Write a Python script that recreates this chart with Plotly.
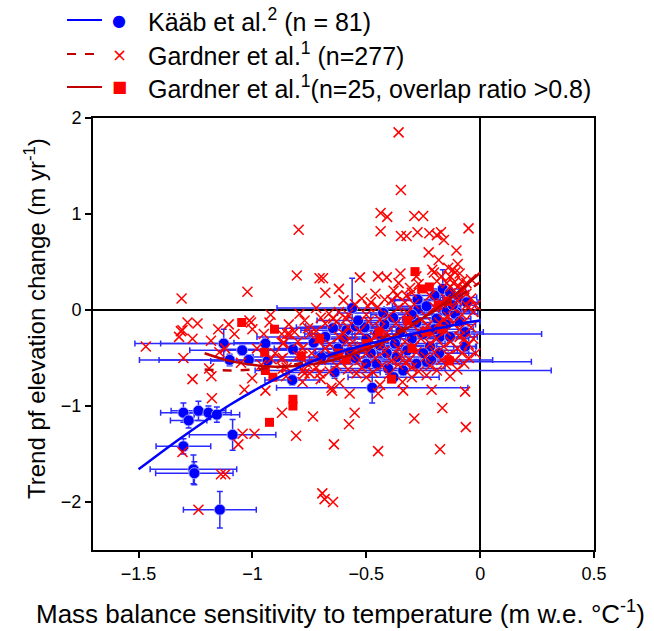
import plotly.graph_objects as go

# ---------------- data ----------------
# Kääb et al. (n = 81): x, y, x-error, y-error
kaab_x = [-1.143, -1.259, -1.255, -1.303, -1.087, -1.303, -1.28, -1.237, -1.193, -1.156,
          -1.126, -1.045, -1.016, -1.10, -0.943, -0.933, -0.822, -0.731, -0.639, -0.825,
          -0.474, -0.562, -0.646, -0.587, -0.546, -0.507, -0.536, -0.624, -0.573, -0.697,
          -0.426, -0.44, -0.41, -0.374, -0.455, -0.404, -0.338, -0.367, -0.272, -0.272,
          -0.164, -0.132, -0.095, -0.147, -0.103, -0.191, -0.28, -0.176, -0.132, -0.22,
          -0.066, -0.066, -0.235, -0.50, -0.382, -0.235, -0.11, -0.059, -0.275, -0.25,
          -0.215, -0.45, -0.35, -0.30, -0.50, -0.32, -0.25, -0.18, -0.60, -0.68,
          -0.42, -0.30, -0.20, -0.15, -0.48, -0.55, -0.28, -0.38, -0.12, -0.20, -0.09]
kaab_y = [-2.08, -1.66, -1.70, -1.42, -1.30, -1.07, -1.15, -1.05, -1.07, -1.09,
          -0.35, -0.42, -0.52, -0.52, -0.35, -0.53, -0.41, -0.34, -0.65, -0.73,
          -0.81, 0.02, -0.19, -0.21, -0.17, -0.18, -0.11, -0.40, -0.44, -0.49,
          -0.03, -0.37, -0.45, -0.35, -0.56, -0.61, -0.63, -0.49, 0.10, 0.01,
          0.22, 0.18, 0.13, -0.01, -0.02, -0.09, -0.13, -0.28, -0.28, -0.38,
          -0.38, -0.23, -0.54, -0.56, -0.08, 0.04, -0.04, 0.08, 0.11, -0.25,
          -0.52, -0.25, -0.22, -0.30, -0.30, -0.42, -0.45, -0.45, -0.30, -0.28,
          -0.15, -0.05, -0.20, -0.15, -0.45, -0.50, -0.56, -0.70, 0.05, 0.15, -0.12]
kaab_xerr = [0.16, 0.19, 0.17, 0.12, 0.19, 0.10, 0.08, 0.12, 0.10, 0.10,
             0.39, 0.23, 0.48, 0.31, 0.46, 0.25, 0.30, 0.35, 0.20, 0.12,
             0.42, 0.33, 0.25, 0.20, 0.22, 0.30, 0.18, 0.28, 0.15, 0.30,
             0.20, 0.25, 0.18, 0.22, 0.30, 0.25, 0.65, 0.20, 0.12, 0.15,
             0.10, 0.08, 0.08, 0.10, 0.08, 0.15, 0.20, 0.15, 0.12, 0.20,
             0.05, 0.08, 0.46, 0.25, 0.20, 0.15, 0.10, 0.05, 0.10, 0.52,
             0.27, 0.30, 0.20, 0.25, 0.20, 0.22, 0.20, 0.16, 0.25, 0.30,
             0.20, 0.18, 0.17, 0.13, 0.25, 0.20, 0.20, 0.20, 0.10, 0.12, 0.09]
kaab_yerr = [0.19, 0.15, 0.12, 0.08, 0.16, 0.10, 0.08, 0.10, 0.07, 0.08,
             0.15, 0.05, 0.05, 0.06, 0.05, 0.05, 0.05, 0.06, 0.06, 0.05,
             0.16, 0.31, 0.05, 0.05, 0.05, 0.06, 0.05, 0.05, 0.05, 0.06,
             0.05, 0.05, 0.06, 0.05, 0.05, 0.06, 0.05, 0.05, 0.05, 0.05,
             0.20, 0.05, 0.05, 0.05, 0.05, 0.05, 0.05, 0.05, 0.05, 0.05,
             0.05, 0.05, 0.05, 0.05, 0.05, 0.05, 0.05, 0.05, 0.05, 0.05,
             0.05, 0.05, 0.05, 0.06, 0.05, 0.05, 0.05, 0.05, 0.05, 0.05,
             0.05, 0.05, 0.05, 0.05, 0.05, 0.05, 0.05, 0.05, 0.05, 0.05, 0.05]

# Gardner et al. (n = 277)
gard_x = [
    -0.358, -0.348, -0.437, -0.408, -0.289, -0.25, -0.437, -0.348, -0.323, -0.275,
    -0.223, -0.19, -0.172, -0.159, -0.051, -0.226, -0.104, -0.182, -0.098, -0.203,
    -0.12, -0.528, -0.448, -0.41, -0.358, -0.308, -0.364, -0.323, -0.797, -0.805,
    -0.705, -0.69, -1.311, -1.022, -0.492, -0.419, -0.389, -0.051, -0.117, -0.095,
    -0.081, -0.132, -0.147, -0.11,
    -1.285, -1.241, -1.314, -1.322, -1.468, -1.263, -1.303, -1.263, -1.18, -1.19,
    -1.178, -1.104, -1.079, -1.013, -1.006, -0.925, -1.001, -1.035, -1.062, -1.043,
    -0.991, -1.307, -1.138, -1.119, -1.237, -0.943, -0.87, -0.808, -0.734, -0.642,
    -0.693, -0.683, -0.646, -0.871, -0.837, -0.815, -0.793, -0.771, -0.756, -0.862,
    -0.918, -0.874, -0.852, -0.778, -0.705, -0.661, -0.653, -0.573, -0.576, -0.551,
    -0.664, -0.646, -0.587, -0.587, -1.182, -1.145, -1.307, -0.847, -0.866, -0.866,
    -0.866, -0.771, -0.749,
    -0.448, -0.289, -0.166, -0.063, -0.176, -0.65, -0.44, -0.448, -0.338, -0.213,
    -0.066, -0.543, -0.132, -0.235, -0.341, -0.617,
    -0.52, -0.46, -0.38, -0.30, -0.27, -0.22, -0.19, -0.15, -0.13, -0.10,
    -0.08, -0.06, -0.04, -0.60, -0.68, -0.25, -0.17, -0.11, -0.07, -0.33,
    -0.72, -0.62, -0.55, -0.50, -0.45, -0.40, -0.36, -0.32, -0.29, -0.24,
    -0.20, -0.17, -0.14, -0.12, -0.08, -0.06, -0.03, -0.70, -0.48, -0.26,
    -0.68, -0.63, -0.58, -0.53, -0.49, -0.44, -0.41, -0.37, -0.34, -0.31,
    -0.27, -0.23, -0.21, -0.18, -0.15, -0.12, -0.09, -0.07, -0.04, -0.72,
    -0.60, -0.46,
    -0.71, -0.66, -0.62, -0.56, -0.52, -0.48, -0.43, -0.39, -0.36, -0.33,
    -0.29, -0.26, -0.22, -0.19, -0.16, -0.13, -0.10, -0.07, -0.05, -0.68,
    -0.55,
    -0.74, -0.70, -0.65, -0.61, -0.57, -0.53, -0.50, -0.46, -0.42, -0.39,
    -0.35, -0.31, -0.28, -0.24, -0.20, -0.17, -0.14, -0.11, -0.08, -0.05,
    -0.80, -0.78,
    -0.76, -0.72, -0.63, -0.58, -0.52, -0.47, -0.43, -0.40, -0.36, -0.30,
    -0.27, -0.22, -0.19, -0.15, -0.10, -0.07, -0.50, -0.30,
    -0.95, -0.98, -0.90, -0.84, -0.80, -0.75, -0.96, -1.05, -1.12, -1.00,
    -0.92, -0.85, -0.78, -0.70, -1.15,
    -0.02, -0.03, -0.02, -0.09, -0.14, -0.21, -0.28, -0.35, -0.06, -0.04,
    -0.62, -0.58, -0.16, -0.44, -0.33, -0.09]
gard_y = [
    1.85, 1.25, 1.01, 0.97, 0.98, 0.98, 0.82, 0.77, 0.77, 0.81,
    0.80, 0.78, 0.81, 0.73, 0.85, 0.60, 0.62, 0.52, 0.48, 0.39,
    0.42, 0.34, 0.35, 0.34, 0.28, 0.23, 0.15, 0.15, 0.835, 0.36,
    0.33, 0.33, 0.12, 0.19, 0.04, 0.11, 0.10, 0.03, 0.28, 0.25,
    0.20, 0.35, 0.28, 0.39,
    -0.13, -0.14, -0.22, -0.28, -0.38, -0.30, -0.50, -0.72, -0.69, -0.61,
    -0.92, -0.15, -0.25, -0.11, -0.13, -0.13, -0.71, -0.83, -1.40, -1.29,
    -1.29, -1.48, -1.71, -1.71, -2.08, -0.84, -1.07, -1.31, -1.11, -1.40,
    -1.91, -1.97, -2.00, -0.25, -0.25, -0.23, -0.04, -0.11, -0.19, -0.34,
    -0.51, -0.51, -0.69, -0.63, -0.66, -0.64, -0.81, -0.87, -1.19, -1.07,
    -0.04, -0.09, -0.09, -0.33, -0.32, -0.44, -0.21, -0.25, -0.35, -0.50,
    -0.61, -0.66, -0.66,
    -1.47, -1.13, -1.02, -1.22, -1.45, -0.84, -0.78, -0.87, -0.84, -0.83,
    -0.85, -0.66, -0.69, -0.68, -0.75, -0.76,
    0.12, 0.17, 0.20, 0.18, 0.27, 0.15, 0.30, 0.12, 0.24, 0.10,
    0.30, 0.17, 0.12, 0.10, 0.18, 0.22, 0.35, 0.16, 0.22, 0.08,
    0.02, -0.02, 0.06, -0.05, 0.03, -0.06, 0.02, -0.03, 0.06, -0.06,
    0.03, 0.07, -0.07, 0.02, -0.05, 0.05, -0.02, -0.08, 0.08, -0.10,
    -0.14, -0.12, -0.18, -0.22, -0.12, -0.19, -0.24, -0.14, -0.20, -0.12,
    -0.22, -0.16, -0.25, -0.13, -0.22, -0.14, -0.20, -0.12, -0.18, -0.22,
    -0.25, -0.28,
    -0.30, -0.36, -0.28, -0.33, -0.38, -0.31, -0.36, -0.29, -0.40, -0.33,
    -0.38, -0.30, -0.35, -0.30, -0.38, -0.33, -0.40, -0.30, -0.36, -0.40,
    -0.42,
    -0.45, -0.52, -0.47, -0.54, -0.48, -0.52, -0.45, -0.50, -0.43, -0.53,
    -0.47, -0.52, -0.44, -0.49, -0.44, -0.52, -0.47, -0.52, -0.45, -0.50,
    -0.48, -0.40,
    -0.56, -0.60, -0.58, -0.62, -0.60, -0.65, -0.58, -0.67, -0.57, -0.60,
    -0.64, -0.58, -0.63, -0.57, -0.62, -0.56, -0.70, -0.70,
    -0.25, -0.40, -0.45, -0.15, -0.33, -0.25, -0.57, -0.55, -0.40, -0.20,
    -0.05, -0.60, -0.75, -0.72, -0.20,
    0.05, -0.30, -0.45, 0.38, 0.44, 0.42, 0.35, 0.38, 0.28, 0.32,
    0.22, -0.05, -0.10, -0.10, -0.55, -0.28]

# Gardner et al. (n = 25, overlap ratio > 0.8)
sq_x = [-1.047, -0.903, -0.946, -0.785, -0.943, -0.91, -0.822, -0.822, -0.925, -0.286,
        -0.257, -0.223, -0.184, -0.144, -0.444, -0.235, -0.319, -0.135, -0.389, -0.587,
        -0.705, -0.50, -0.30, -0.62, -0.17]
sq_y = [-0.13, -0.20, -0.44, -0.48, -0.63, -0.70, -0.93, -1.00, -1.17, 0.40,
        0.22, 0.24, 0.05, 0.09, -0.23, -0.23, -0.11, -0.53, -0.72, -0.52,
        -0.30, -0.35, -0.40, -0.45, -0.20]

# fitted curves
fit_kaab_x = [-1.5, -1.3, -1.1, -0.9, -0.7, -0.5, -0.3, -0.1, 0.0]
fit_kaab_y = [-1.66, -1.31, -0.99, -0.72, -0.50, -0.36, -0.25, -0.15, -0.11]
fit_gall_x = [-1.21, -1.1, -1.0, -0.9, -0.8, -0.7, -0.6, -0.5, -0.4, -0.3, -0.2, -0.1, 0.0]
fit_gall_y = [-0.62, -0.63, -0.62, -0.60, -0.56, -0.51, -0.44, -0.36, -0.26, -0.15, -0.01, 0.13, 0.29]
fit_gsq_x = [-1.21, -1.1, -1.0, -0.9, -0.8, -0.7, -0.6, -0.5, -0.4, -0.3, -0.2, -0.1, 0.0]
fit_gsq_y = [-0.45, -0.53, -0.57, -0.59, -0.58, -0.55, -0.49, -0.41, -0.30, -0.16, 0.00, 0.18, 0.39]

x_ticks = [-1.5, -1, -0.5, 0, 0.5]
x_ticktext = ["\u22121.5", "\u22121", "\u22120.5", "0", "0.5"]
y_ticks = [-2, -1, 0, 1, 2]
y_ticktext = ["\u22122", "\u22121", "0", "1", "2"]

BLUE = "#0000FF"
RED = "#FF0000"
DARKRED = "#C00000"
FONT = "Liberation Sans, Arial, sans-serif"

fig = go.Figure()

fig.add_trace(go.Scatter(
    x=kaab_x, y=kaab_y, mode="markers",
    marker=dict(symbol="circle", size=11, color=BLUE,
                line=dict(color="rgba(170,170,255,0.9)", width=1)),
    error_x=dict(type="data", array=kaab_xerr, color="#2a2aff", thickness=1.5, width=3),
    error_y=dict(type="data", array=kaab_yerr, color="#2a2aff", thickness=1.5, width=3),
    cliponaxis=False))

fig.add_trace(go.Scatter(
    x=gard_x, y=gard_y, mode="markers",
    marker=dict(symbol="x-thin", size=10, color=RED, line=dict(color=RED, width=1.5))))

fig.add_trace(go.Scatter(
    x=sq_x, y=sq_y, mode="markers",
    marker=dict(symbol="square", size=9, color=RED, line=dict(width=0))))

fig.add_trace(go.Scatter(x=fit_gall_x, y=fit_gall_y, mode="lines",
                         line=dict(color=DARKRED, width=2.5, dash="dash", shape="spline")))
fig.add_trace(go.Scatter(x=fit_gsq_x, y=fit_gsq_y, mode="lines",
                         line=dict(color=DARKRED, width=2.5, shape="spline")))
fig.add_trace(go.Scatter(x=fit_kaab_x, y=fit_kaab_y, mode="lines",
                         line=dict(color=BLUE, width=2.5, shape="spline")))

# plot area in pixels: x 93..594, y 118..550
L, R, T, B = 93, 594, 118, 550
def px(xp):
    return (xp - L) / (R - L)
def py(yp):
    return (B - yp) / (B - T)

# custom legend
legend_rows = [
    ("Kääb et al.<sup>2</sup> (n = 81)", BLUE, "solid", "\u25CF", BLUE, 20),
    ("Gardner et al.<sup>1</sup> (n=277)", DARKRED, "dash", "\u00D7", RED, 54),
    ("Gardner et al.<sup>1</sup>(n=25, overlap ratio >0.8)", DARKRED, "solid", "\u25A0", RED, 87),
]
shapes = []
annotations = []
for text, lcol, ldash, glyph, gcol, ypx in legend_rows:
    shapes.append(dict(type="line", xref="paper", yref="paper",
                       x0=px(67), x1=px(102), y0=py(ypx), y1=py(ypx),
                       line=dict(color=lcol, width=2, dash=ldash)))
    annotations.append(dict(xref="paper", yref="paper", x=px(119), y=py(ypx),
                            text=glyph, showarrow=False, xanchor="center", yanchor="middle",
                            font=dict(family="DejaVu Sans", size=16 if glyph != "\u00D7" else 18, color=gcol)))
    annotations.append(dict(xref="paper", yref="paper", x=px(146), y=py(ypx),
                            text=text, showarrow=False, xanchor="left", yanchor="middle",
                            font=dict(family=FONT, size=25, color="black")))

# axis titles
annotations.append(dict(xref="paper", yref="paper", x=px(340), y=py(612),
                        text="Mass balance sensitivity to temperature (m w.e. °C<sup>-1</sup>)",
                        showarrow=False, xanchor="center", yanchor="middle",
                        font=dict(family=FONT, size=26, color="black")))
annotations.append(dict(xref="paper", yref="paper", x=px(35), y=py(319),
                        text="Trend pf elevation change (m yr<sup>-1</sup>)", textangle=-90,
                        showarrow=False, xanchor="center", yanchor="middle",
                        font=dict(family=FONT, size=24, color="black")))

fig.update_layout(
    width=654, height=631,
    margin=dict(l=L, r=654 - R, t=T, b=631 - B),
    plot_bgcolor="white", paper_bgcolor="white",
    showlegend=False,
    font=dict(family=FONT, color="black"),
    shapes=shapes, annotations=annotations,
    xaxis=dict(range=[-1.7, 0.5], tickvals=x_ticks, ticktext=x_ticktext,
               ticks="outside", ticklen=6, tickwidth=1.5, tickcolor="black",
               showline=True, linewidth=2, linecolor="black", mirror=True,
               showgrid=False, zeroline=True, zerolinecolor="black", zerolinewidth=2,
               tickfont=dict(family=FONT, size=18, color="black")),
    yaxis=dict(range=[-2.5, 2], tickvals=y_ticks, ticktext=y_ticktext,
               ticks="outside", ticklen=6, tickwidth=1.5, tickcolor="black",
               showline=True, linewidth=2, linecolor="black", mirror=True,
               showgrid=False, zeroline=True, zerolinecolor="black", zerolinewidth=2,
               tickfont=dict(family=FONT, size=18, color="black")),
)

fig.write_html("out.html", config={"displayModeBar": False},
               post_script="document.body.style.margin='0';document.body.style.overflow='hidden';")
